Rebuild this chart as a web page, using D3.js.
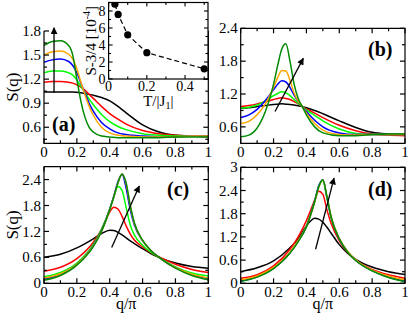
<!DOCTYPE html>
<html><head><meta charset="utf-8">
<script src="https://cdn.jsdelivr.net/npm/d3@7"></script>
<style>
body{margin:0;background:#fff}
svg{display:block}
svg text{font-family:"Liberation Serif","DejaVu Serif","Times New Roman",Times,serif}
</style>
</head><body>
<svg id="chart" width="411" height="319"></svg>
<script>
// ---------------- DATA ----------------
const seriesNames = ["black","red","green","blue","orange","darkgreen"];
const seriesColors = ["#000000","#ff0000","#00ff00","#0000ff","#ffa500","#008b00"];

const xTicks = [0,0.2,0.4,0.6,0.8,1];
const xMinor = [0.1,0.3,0.5,0.7,0.9];

// panel (a)
const qA = [0,0.05,0.1,0.15,0.175,0.2,0.225,0.25,0.275,0.3,0.35,0.4,0.45,0.5,0.6,0.7,0.8,0.9,1];
const aBlack  = [1.04,1.04,1.04,1.04,1.04,1.035,1.03,1.02,1.01,1.0,0.97,0.93,0.86,0.78,0.63,0.54,0.50,0.49,0.49];
const aRed    = [1.16,1.17,1.17,1.16,1.15,1.13,1.10,1.06,1.01,0.96,0.86,0.77,0.70,0.64,0.56,0.52,0.50,0.49,0.48];
const aGreen  = [1.28,1.30,1.30,1.28,1.25,1.19,1.11,1.03,0.95,0.88,0.76,0.67,0.61,0.57,0.52,0.50,0.49,0.49,0.49];
const aBlue   = [1.41,1.44,1.45,1.42,1.37,1.28,1.15,1.02,0.90,0.80,0.66,0.58,0.53,0.51,0.49,0.48,0.48,0.49,0.49];
const aOrange = [1.50,1.54,1.55,1.51,1.45,1.33,1.16,1.00,0.86,0.75,0.60,0.53,0.50,0.49,0.48,0.48,0.48,0.49,0.49];
const aDkGreen= [1.62,1.67,1.68,1.62,1.50,1.20,0.92,0.72,0.60,0.54,0.49,0.48,0.47,0.47,0.47,0.47,0.48,0.48,0.48];
const aYTicks = [0.6,0.9,1.2,1.5,1.8];
const aYMinor = [0.45,0.75,1.05,1.35,1.65];

// panel (b)
const qB = [0,0.05,0.1,0.15,0.2,0.225,0.25,0.275,0.3,0.325,0.35,0.375,0.4,0.45,0.5,0.6,0.7,0.8,0.9,1];
const bBlack  = [0.94,0.95,0.97,0.99,1.01,1.015,1.02,1.015,1.01,1.0,0.985,0.97,0.95,0.90,0.84,0.71,0.59,0.50,0.47,0.46];
const bRed    = [0.97,0.99,1.02,1.06,1.10,1.12,1.13,1.12,1.10,1.06,1.02,0.97,0.93,0.85,0.77,0.63,0.53,0.47,0.45,0.44];
const bGreen  = [0.94,0.96,1.00,1.07,1.17,1.21,1.24,1.22,1.17,1.10,1.03,0.97,0.91,0.81,0.71,0.56,0.48,0.46,0.46,0.46];
const bBlue   = [0.77,0.82,0.92,1.08,1.28,1.38,1.44,1.42,1.32,1.18,1.06,0.97,0.88,0.72,0.60,0.49,0.46,0.46,0.46,0.46];
const bOrange = [0.66,0.70,0.82,1.02,1.32,1.50,1.63,1.62,1.45,1.22,1.07,0.97,0.85,0.66,0.54,0.46,0.45,0.46,0.46,0.46];
const bDkGreen= [0.42,0.45,0.58,0.88,1.38,1.72,2.02,2.12,1.80,1.38,1.12,0.97,0.82,0.60,0.49,0.44,0.44,0.46,0.47,0.47];
const bYTicks = [0.6,1.2,1.8,2.4];
const bYMinor = [0.9,1.5,2.1];

// panel (c)
const qC = [0,0.1,0.2,0.3,0.35,0.4,0.425,0.45,0.475,0.5,0.525,0.55,0.6,0.65,0.7,0.8,0.9,1];
const cBlack  = [0.60,0.67,0.82,1.03,1.15,1.23,1.22,1.18,1.12,1.05,0.98,0.92,0.80,0.69,0.60,0.47,0.39,0.35];
const cRed    = [0.28,0.37,0.57,0.95,1.25,1.65,1.76,1.72,1.55,1.33,1.14,1.00,0.84,0.71,0.61,0.44,0.32,0.25];
const cGreen  = [0.15,0.25,0.47,0.90,1.25,1.72,2.00,2.24,2.15,1.75,1.35,1.12,0.88,0.72,0.60,0.38,0.24,0.17];
const cBlue   = [0.10,0.21,0.44,0.87,1.22,1.72,2.02,2.35,2.52,2.20,1.70,1.35,0.98,0.76,0.60,0.36,0.20,0.11];
const cOrange = [0.12,0.22,0.44,0.86,1.20,1.70,2.00,2.32,2.53,2.30,1.78,1.38,0.99,0.76,0.60,0.36,0.21,0.12];
const cDkGreen= [0.07,0.18,0.42,0.85,1.20,1.70,2.00,2.32,2.53,2.32,1.80,1.40,1.00,0.76,0.60,0.35,0.18,0.08];
const cYTicks = [0,0.6,1.2,1.8,2.4];
const cYMinor = [0.3,0.9,1.5,2.1];

// panel (d)
const qD = [0,0.1,0.2,0.3,0.35,0.4,0.425,0.45,0.475,0.5,0.525,0.55,0.6,0.65,0.7,0.8,0.9,1];
const dBlack  = [0.30,0.40,0.58,0.92,1.15,1.48,1.61,1.68,1.66,1.58,1.45,1.30,1.00,0.78,0.62,0.42,0.30,0.23];
const dRed    = [0.13,0.22,0.45,0.88,1.20,1.62,1.88,2.15,2.38,2.30,1.90,1.55,1.10,0.80,0.60,0.36,0.22,0.13];
const dGreen  = [0.08,0.18,0.40,0.80,1.10,1.48,1.78,2.12,2.50,2.66,2.20,1.70,1.15,0.82,0.60,0.33,0.17,0.07];
const dBlue   = [0.06,0.17,0.39,0.79,1.09,1.47,1.77,2.12,2.52,2.68,2.22,1.71,1.15,0.82,0.60,0.33,0.16,0.05];
const dOrange = [0.09,0.19,0.41,0.80,1.10,1.47,1.76,2.10,2.48,2.67,2.24,1.73,1.16,0.83,0.61,0.34,0.19,0.09];
const dDkGreen= [0.05,0.16,0.38,0.78,1.08,1.46,1.76,2.11,2.50,2.68,2.24,1.72,1.15,0.81,0.59,0.32,0.15,0.04];
const dYTicks = [0,0.6,1.2,1.8,2.4,3];
const dYMinor = [0.3,0.9,1.5,2.1,2.7];

// inset
const insetT = [0.033,0.05,0.1,0.2,0.5];
const insetS = [8.8,7.6,5.2,3.1,1.2];
const insetXTicks = [0,0.2,0.4];
const insetXMinor = [0.1,0.3,0.5];
const insetYTicks = [0,2,4,6,8];
const insetYMinor = [1,3,5,7,9];

// arrows (data coords: [q0,v0,q1,v1])
const arrowA = [0.061,1.03,0.061,1.84];
const arrowB = [0.209,0.88,0.381,1.85];
const arrowC = [0.412,0.83,0.58,2.25];
const arrowD = [0.456,0.88,0.568,2.72];

// ---------------- DRAW ----------------
const svg = d3.select("#chart");
svg.append("rect").attr("width",411).attr("height",319).attr("fill","#fff");
const defs = svg.append("defs");
defs.append("marker").attr("id","ah").attr("viewBox","0 0 10 10")
  .attr("refX",9).attr("refY",5).attr("markerWidth",8).attr("markerHeight",7)
  .attr("markerUnits","userSpaceOnUse").attr("orient","auto")
  .append("path").attr("d","M0,0 L10,5 L0,10 Z").attr("fill","#000");

function fmt(v){ return d3.format("~g")(+v.toFixed(3)); }

function panel(cfg){
  const {id,x0,x1,y0,y1,ydom,yT,yM,qs,series,label,lx,ly,arrow,xlab,ylab,topBorder} = cfg;
  const x = d3.scaleLinear().domain([0,1]).range([x0,x1]);
  const y = d3.scaleLinear().domain(ydom).range([y1,y0]);
  const g = svg.append("g");
  defs.append("clipPath").attr("id","clip"+id).append("rect")
    .attr("x",x0).attr("y",y0).attr("width",x1-x0).attr("height",y1-y0);
  const cg = g.append("g").attr("clip-path","url(#clip"+id+")");
  const line = d3.line().x((d,i)=>x(qs[i])).y(d=>y(d)).curve(d3.curveMonotoneX);
  series.forEach((s,k)=>{
    cg.append("path").attr("d",line(s)).attr("fill","none")
      .attr("stroke",seriesColors[k]).attr("stroke-width",1.5);
  });
  const fr = g.append("g").attr("stroke","#000").attr("stroke-width",1.2).attr("fill","none");
  fr.append("path").attr("d",`M${x0},${y0}V${y1}H${x1}V${y0}` + (topBorder===false?"":`H${x0}`));
  const MJ=5, MN=3;
  xTicks.forEach(t=>{
    fr.append("line").attr("x1",x(t)).attr("x2",x(t)).attr("y1",y1).attr("y2",y1-MJ);
    if(topBorder!==false) fr.append("line").attr("x1",x(t)).attr("x2",x(t)).attr("y1",y0).attr("y2",y0+MJ);
  });
  xMinor.forEach(t=>{
    fr.append("line").attr("x1",x(t)).attr("x2",x(t)).attr("y1",y1).attr("y2",y1-MN);
    if(topBorder!==false) fr.append("line").attr("x1",x(t)).attr("x2",x(t)).attr("y1",y0).attr("y2",y0+MN);
  });
  yT.forEach(t=>{
    fr.append("line").attr("x1",x0).attr("x2",x0+MJ).attr("y1",y(t)).attr("y2",y(t));
    fr.append("line").attr("x1",x1).attr("x2",x1-MJ).attr("y1",y(t)).attr("y2",y(t));
  });
  yM.forEach(t=>{
    fr.append("line").attr("x1",x0).attr("x2",x0+MN).attr("y1",y(t)).attr("y2",y(t));
    fr.append("line").attr("x1",x1).attr("x2",x1-MN).attr("y1",y(t)).attr("y2",y(t));
  });
  xTicks.forEach(t=>{
    g.append("text").attr("x",x(t)).attr("y",y1+13.5).attr("text-anchor","middle")
      .attr("font-size",15).text(fmt(t));
  });
  yT.forEach(t=>{
    g.append("text").attr("x",x0-3).attr("y",y(t)).attr("dy","0.34em").attr("text-anchor","end")
      .attr("font-size",15).text(fmt(t));
  });
  g.append("text").attr("x",lx).attr("y",ly).attr("font-size",20).attr("font-weight","bold").text(label);
  g.append("line").attr("x1",x(arrow[0])).attr("y1",y(arrow[1])).attr("x2",x(arrow[2])).attr("y2",y(arrow[3]))
    .attr("stroke","#000").attr("stroke-width",1.3).attr("marker-end","url(#ah)");
  if(ylab){
    g.append("text").attr("transform",`translate(18,${(y0+y1)/2}) rotate(-90)`)
      .attr("text-anchor","middle").attr("font-size",17).text("S(q)");
  }
  if(xlab){
    g.append("text").attr("x",(x0+x1)/2).attr("y",309).attr("text-anchor","middle")
      .attr("font-size",16).text("q/π");
  }
}

panel({id:"a",x0:44,x1:208.3,y0:31,y1:143.3,ydom:[0.4,1.8],yT:aYTicks,yM:aYMinor,qs:qA,
  series:[aBlack,aRed,aGreen,aBlue,aOrange,aDkGreen],label:"(a)",lx:52,ly:131,arrow:arrowA,ylab:true,topBorder:false});
panel({id:"b",x0:240.7,x1:405,y0:28.3,y1:143.3,ydom:[0.3,2.4],yT:bYTicks,yM:bYMinor,qs:qB,
  series:[bBlack,bRed,bGreen,bBlue,bOrange,bDkGreen],label:"(b)",lx:368,ly:56,arrow:arrowB});
panel({id:"c",x0:44,x1:208.3,y0:166.6,y1:283.3,ydom:[0,2.7],yT:cYTicks,yM:cYMinor,qs:qC,
  series:[cBlack,cRed,cGreen,cBlue,cOrange,cDkGreen],label:"(c)",lx:167,ly:196,arrow:arrowC,ylab:true,xlab:true});
panel({id:"d",x0:240.7,x1:405,y0:167.3,y1:283.3,ydom:[0,3],yT:dYTicks,yM:dYMinor,qs:qD,
  series:[dBlack,dRed,dGreen,dBlue,dOrange,dDkGreen],label:"(d)",lx:368,ly:196,arrow:arrowD,xlab:true});

// inset
(function(){
  const ix0=108.6, ix1=208, iy0=2.5, iy1=79;
  const x = d3.scaleLinear().domain([0,0.52]).range([ix0,ix1]);
  const y = d3.scaleLinear().domain([0,9]).range([iy1,iy0]);
  const g = svg.append("g");
  g.append("rect").attr("x",ix0).attr("y",iy0).attr("width",ix1-ix0).attr("height",iy1-iy0)
    .attr("fill","#fff").attr("stroke","#000").attr("stroke-width",1.2);
  defs.append("clipPath").attr("id","clipI").append("rect")
    .attr("x",ix0).attr("y",iy0).attr("width",ix1-ix0).attr("height",iy1-iy0);
  const cg = g.append("g").attr("clip-path","url(#clipI)");
  cg.append("path").attr("d",d3.line().x((d,i)=>x(insetT[i])).y(d=>y(d))(insetS))
    .attr("fill","none").attr("stroke","#000").attr("stroke-width",1.2).attr("stroke-dasharray","5,3");
  cg.selectAll("circle").data(insetS).join("circle")
    .attr("cx",(d,i)=>x(insetT[i])).attr("cy",d=>y(d)).attr("r",3.6).attr("fill","#000");
  const fr = g.append("g").attr("stroke","#000").attr("stroke-width",1.1);
  const MJ=4, MN=2.5;
  insetXTicks.forEach(t=>{
    fr.append("line").attr("x1",x(t)).attr("x2",x(t)).attr("y1",iy1).attr("y2",iy1-MJ);
    fr.append("line").attr("x1",x(t)).attr("x2",x(t)).attr("y1",iy0).attr("y2",iy0+MJ);
    g.append("text").attr("x",x(t)).attr("y",iy1+12).attr("text-anchor","middle").attr("font-size",14).text(fmt(t));
  });
  insetXMinor.forEach(t=>{
    fr.append("line").attr("x1",x(t)).attr("x2",x(t)).attr("y1",iy1).attr("y2",iy1-MN);
    fr.append("line").attr("x1",x(t)).attr("x2",x(t)).attr("y1",iy0).attr("y2",iy0+MN);
  });
  insetYTicks.forEach(t=>{
    fr.append("line").attr("x1",ix0).attr("x2",ix0+MJ).attr("y1",y(t)).attr("y2",y(t));
    fr.append("line").attr("x1",ix1).attr("x2",ix1-MJ).attr("y1",y(t)).attr("y2",y(t));
    g.append("text").attr("x",ix0-3).attr("y",y(t)).attr("dy","0.34em").attr("text-anchor","end").attr("font-size",14).text(fmt(t));
  });
  insetYMinor.forEach(t=>{
    fr.append("line").attr("x1",ix0).attr("x2",ix0+MN).attr("y1",y(t)).attr("y2",y(t));
    fr.append("line").attr("x1",ix1).attr("x2",ix1-MN).attr("y1",y(t)).attr("y2",y(t));
  });
  const xl = g.append("text").attr("x",(ix0+ix1)/2).attr("y",106).attr("text-anchor","middle").attr("font-size",15);
  xl.append("tspan").text("T/|J");
  xl.append("tspan").attr("font-size",10).attr("dy",3).text("1");
  xl.append("tspan").attr("dy",-3).text("|");
  const yl = g.append("text").attr("transform",`translate(96,${(iy0+iy1)/2}) rotate(-90)`)
    .attr("text-anchor","middle").attr("font-size",15);
  yl.append("tspan").text("S-3/4 [10");
  yl.append("tspan").attr("font-size",10).attr("dy",-6).text("-4");
  yl.append("tspan").attr("dy",6).text("]");
})();
</script>
</body></html>
